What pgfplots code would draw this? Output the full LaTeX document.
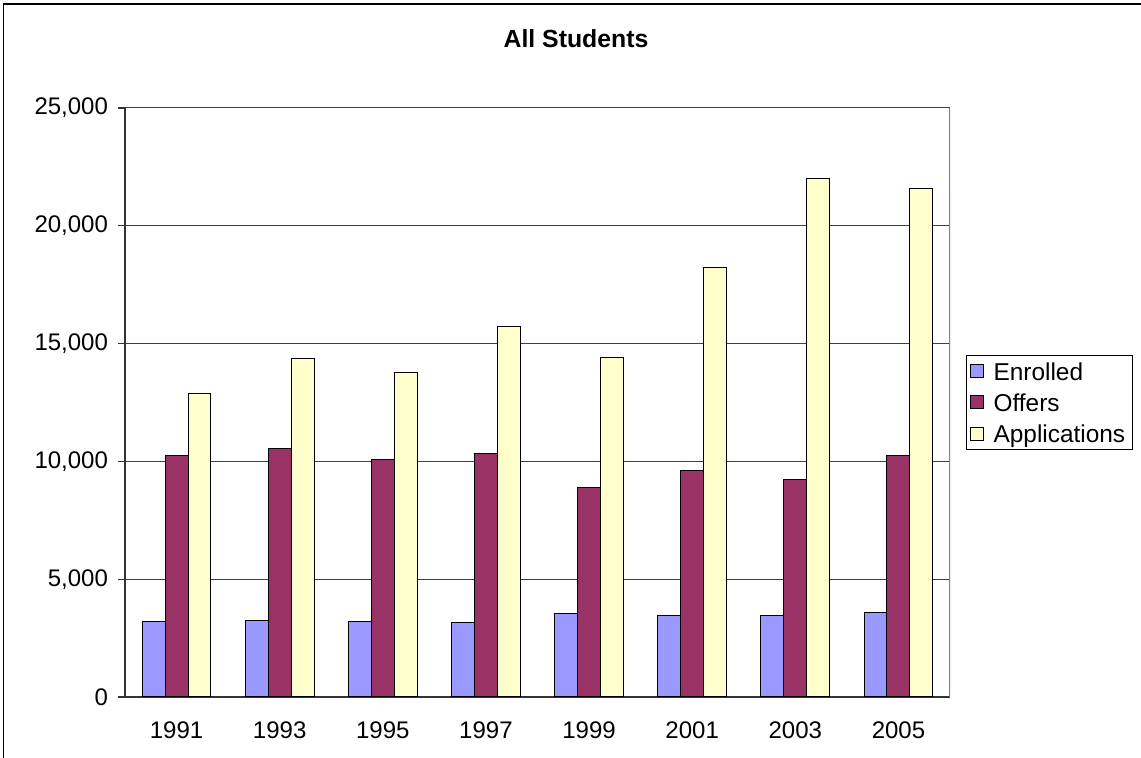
\documentclass[border=0pt]{standalone}
\usepackage{pgfplots}
\pgfplotsset{compat=1.18}
\usepackage{fontspec}
\setmainfont{Liberation Sans}
\definecolor{cEnr}{HTML}{9999FF}
\definecolor{cOff}{HTML}{993366}
\definecolor{cApp}{HTML}{FFFFCC}
\begin{document}
\begin{tikzpicture}
\useasboundingbox (0pt,0pt) rectangle (570.5pt,379pt);
\draw[black, line width=0.8pt] (1.7pt,-2pt) -- (1.7pt,377pt) -- (575pt,377pt);
\node[font=\fontsize{12.4}{14}\selectfont\bfseries, anchor=base] at (288pt,355.3pt) {All Students};
\begin{axis}[
  at={(62.5pt,30.5pt)}, anchor=south west,
  scale only axis, width=412.5pt, height=294.5pt,
  ybar=0pt, bar width=11.45pt,
  xmin=-0.5, xmax=7.5, ymin=0, ymax=25000,
  xtick={0,...,7},
  xticklabels={1991,1993,1995,1997,1999,2001,2003,2005},
  minor xtick={-0.5,0.5,...,7.5},
  ytick={0,5000,...,25000},
  axis x line*=bottom, axis y line*=left,
  axis line style={black!80, line width=0.6pt, -},
  tick align=outside, tick pos=left,
  x tick style={draw=none},
  minor x tick style={black!80, line width=0.6pt},
  minor tick length=3pt,
  y tick style={black!80, line width=0.6pt},
  major tick length=3.5pt,
  ymajorgrids, grid style={black!75, line width=0.5pt},
  tick label style={font=\fontsize{12}{14}\selectfont},
  yticklabel style={xshift=-1.5pt},
  xticklabel style={yshift=-5.5pt},
  /pgf/number format/.cd, 1000 sep={,}, assume math mode=true,
  /pgfplots/.cd,
  scaled y ticks=false,
  legend style={at={(1.0194,0.5806)}, anchor=north west, draw=black, line width=0.6pt,
    font=\fontsize{12.2}{14}\selectfont, inner xsep=1.5pt, inner ysep=0pt,
    nodes={text height=10.3pt, text depth=1.1pt, inner ysep=2.1pt, inner xsep=2pt},
    legend cell align=left},
  legend image code/.code={\draw[#1, draw=black, line width=0.5pt] (0pt,-3.25pt) rectangle (6.5pt,3.25pt); \path (9.5pt,0pt);},
]
\addplot[fill=cEnr, draw=black, line width=0.5pt] coordinates {(0,3200) (1,3250) (2,3200) (3,3180) (4,3550) (5,3450) (6,3450) (7,3600)};
\addplot[fill=cOff, draw=black, line width=0.5pt] coordinates {(0,10260) (1,10550) (2,10100) (3,10340) (4,8900) (5,9600) (6,9250) (7,10260)};
\addplot[fill=cApp, draw=black, line width=0.5pt] coordinates {(0,12900) (1,14380) (2,13780) (3,15730) (4,14400) (5,18220) (6,21990) (7,21590)};
\legend{Enrolled,Offers,Applications\hspace{4pt}}
\draw[gray, line width=0.6pt] (rel axis cs:1,0) -- (rel axis cs:1,1);
\end{axis}
\end{tikzpicture}
\end{document}
